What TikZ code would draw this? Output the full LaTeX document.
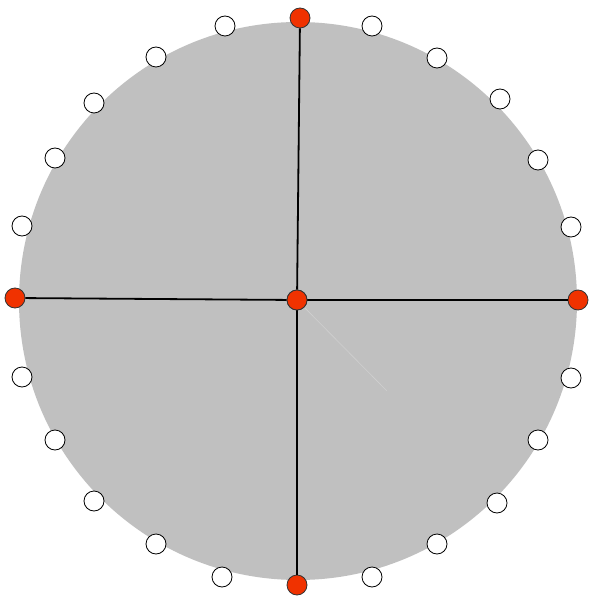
\documentclass[tikz,border=0pt]{standalone}
\begin{document}
\begin{tikzpicture}[x=1pt,y=-1pt,
  wnode/.style={circle,draw=black,line width=0.8pt,fill=white,minimum size=20pt,inner sep=0pt},
  rnode/.style={circle,draw=black!80,line width=0.8pt,fill=redfill,minimum size=20pt,inner sep=0pt},
  spoke/.style={draw=black,line width=1.8pt}]
\definecolor{redfill}{RGB}{240,50,0}
\definecolor{diskgray}{RGB}{192,192,192}
\useasboundingbox (0,0) rectangle (600,601);
\fill[diskgray] (298,301) circle (279);
\coordinate (f) at (387,391);
\node[rnode] (c) at (297,300) {};
\draw[draw=white,line width=0.6pt,opacity=0.25] (c) -- (f);
\node[rnode] (t) at (300,18) {};
\node[rnode] (r) at (578,300) {};
\node[rnode] (b) at (297,585) {};
\node[rnode] (l) at (15,298) {};
\draw[spoke] (c) -- (t);
\draw[spoke] (c) -- (r);
\draw[spoke] (c) -- (b);
\draw[spoke] (c) -- (l);
\node[rnode] at (c) {};
\node[wnode] (w1) at (372,26) {};
\node[wnode] (w2) at (437,58) {};
\node[wnode] (w3) at (500,99) {};
\node[wnode] (w4) at (538,160) {};
\node[wnode] (w5) at (571,227) {};
\node[wnode] (w6) at (571,378) {};
\node[wnode] (w7) at (538,440) {};
\node[wnode] (w8) at (497,503) {};
\node[wnode] (w9) at (437,544) {};
\node[wnode] (w10) at (372,577) {};
\node[wnode] (w11) at (222,577) {};
\node[wnode] (w12) at (156,544) {};
\node[wnode] (w13) at (94,501) {};
\node[wnode] (w14) at (55,440) {};
\node[wnode] (w15) at (22,377) {};
\node[wnode] (w16) at (22,226) {};
\node[wnode] (w17) at (55,158) {};
\node[wnode] (w18) at (94,103) {};
\node[wnode] (w19) at (156,57) {};
\node[wnode] (w20) at (225,26) {};
\end{tikzpicture}
\end{document}
